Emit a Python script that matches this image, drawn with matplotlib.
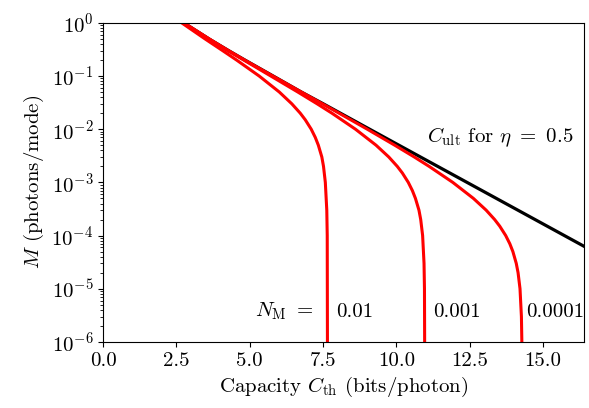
import numpy as np
import matplotlib
matplotlib.use("Agg")
import matplotlib.pyplot as plt

plt.rcParams['font.family'] = 'serif'
plt.rcParams['font.serif'] = ['cmr10']
plt.rcParams['mathtext.fontset'] = 'cm'
plt.rcParams['axes.formatter.use_mathtext'] = True
plt.rcParams['axes.unicode_minus'] = False

# photons per mode (y) and capacity per photon (x)
M_ult = [1.0, 0.5, 0.3, 0.2, 0.1, 0.05, 0.03, 0.01, 3e-3, 1e-3, 3e-4, 1e-4, 5e-5]
C_ult = [2.755, 3.610, 4.283, 4.834, 5.80, 6.76, 7.51, 9.09, 10.825, 12.41, 14.146, 15.73, 16.73]

M_n1 = [1.0, 0.5, 0.3, 0.2, 0.1, 0.05, 0.03, 0.02, 0.015, 0.01, 7e-3, 5e-3,
        3e-3, 2e-3, 1e-3, 3e-4, 1e-4, 1e-6]
C_n1 = [2.680, 3.474, 4.078, 4.551, 5.323, 6.010, 6.437, 6.724, 6.896, 7.098,
        7.237, 7.341, 7.46, 7.517, 7.579, 7.629, 7.644, 7.651]

M_n2 = [1.0, 0.3, 0.1, 0.05, 0.03, 0.02, 0.01, 5e-3, 3e-3, 2e-3, 1.5e-3, 1e-3,
        7e-4, 5e-4, 3e-4, 2e-4, 1e-4, 3e-5, 1e-5, 1e-6]
C_n2 = [2.744, 4.252, 5.720, 6.641, 7.300, 7.804, 8.607, 9.309, 9.743, 10.032,
        10.206, 10.408, 10.548, 10.652, 10.772, 10.832, 10.897, 10.945, 10.960, 10.966]

M_n3 = [1.0, 0.5, 0.3, 0.2, 0.1, 0.05, 0.03, 0.02, 0.01, 5e-3, 3e-3, 2e-3,
        1e-3, 5e-4, 3e-4, 2e-4, 1.5e-4, 1e-4, 7e-5, 5e-5, 3e-5, 2e-5, 1e-5,
        3e-6, 1e-6]
C_n3 = [2.754, 3.607, 4.279, 4.828, 5.789, 6.762, 7.480, 8.048, 9.009, 9.946,
        10.613, 11.118, 11.925, 12.628, 13.064, 13.353, 13.527, 13.730, 13.871,
        13.975, 14.09, 14.152, 14.218, 14.266, 14.281]

noise_labels = ['0.01', '0.001', '0.0001']
label_x = [7.94, 11.25, 14.42]

fs = 15

fig = plt.figure(figsize=(5.89, 4.08), dpi=100)
ax = fig.add_axes([0.175, 0.162, 0.8165, 0.782])

ax.plot(C_ult, M_ult, color='black', lw=2.3)
for C, M in [(C_n1, M_n1), (C_n2, M_n2), (C_n3, M_n3)]:
    ax.plot(C, M, color='red', lw=2.2)

ax.set_yscale('log')
ax.set_xlim(0, 16.4)
ax.set_ylim(1e-6, 1)
ax.set_xticks(np.arange(0, 15.1, 2.5))
ax.set_xticklabels([f'{v:.1f}' for v in np.arange(0, 15.1, 2.5)])
ax.tick_params(labelsize=fs)

ax.set_xlabel(r'Capacity $C_{\rm th}$ (bits/photon)', fontsize=fs)
ax.set_ylabel(r'$M$ (photons/mode)', fontsize=fs)

ax.text(11.05, 7.2e-3, r'$C_{\rm ult}$ for $\eta\ =\ 0.5$', fontsize=fs, va='center')
ax.text(5.18, 3.7e-6, r'$N_{\rm M}\ =$', fontsize=fs, va='center')
for x, s in zip(label_x, noise_labels):
    ax.text(x, 3.7e-6, s, fontsize=fs, va='center')

fig.savefig('out.png', dpi=100)
